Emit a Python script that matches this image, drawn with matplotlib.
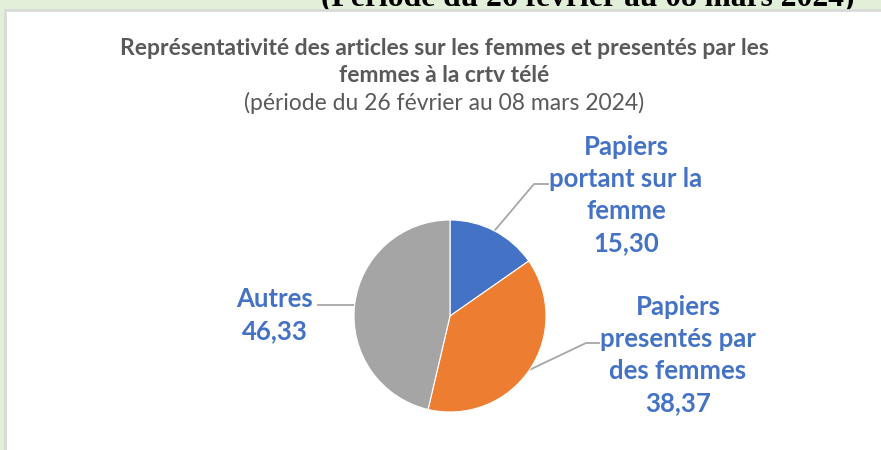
import numpy as np
import matplotlib
matplotlib.use("Agg")
import matplotlib.pyplot as plt
from matplotlib.patches import Rectangle

# data
labels = ["Papiers\nportant sur la\nfemme", "Papiers\npresentés par\ndes femmes", "Autres"]
values = [15.30, 38.37, 46.33]
value_text = ["15,30", "38,37", "46,33"]
colors = ["#4472c4", "#ed7d31", "#a5a5a5"]

title = "Représentativité des articles sur les femmes et presentés par les\nfemmes à la crtv télé"
subtitle = "(période du 26 février au 08 mars 2024)"
top_text = "(Période du 26 février au 08 mars 2024)"

W, H = 881, 450
fig = plt.figure(figsize=(W / 100, H / 100), dpi=100, facecolor="#e2efd9")

# overlay axes in pixel coordinates
ax = fig.add_axes([0, 0, 1, 1])
ax.set_xlim(0, W)
ax.set_ylim(H, 0)
ax.axis("off")

# cut-off heading from the document above the chart
ax.text(588, 5, top_text, ha="center", va="baseline", fontsize=22.7,
        fontweight="bold", family="Liberation Serif", color="black", zorder=1)

# white chart panel
ax.add_patch(Rectangle((5, 10), W, H, facecolor="white", edgecolor="#d9d9d9",
                       linewidth=2, zorder=2))

ax.text(444, 62, title, ha="center", va="center", fontsize=16.5, fontweight="bold",
        family="Lato", color="#595959", linespacing=1.4, zorder=3)
ax.text(444, 103, subtitle, ha="center", va="center", fontsize=16.5,
        family="Lato", color="#595959", zorder=3)

# pie
cx, cy, r = 450, 316, 96
pax = fig.add_axes([(cx - r) / W, 1 - (cy + r) / H, 2 * r / W, 2 * r / H])
pax.pie(values, colors=colors, startangle=90, counterclock=False,
        wedgeprops=dict(linewidth=0.8, edgecolor="white"))
pax.set_xlim(-1, 1)
pax.set_ylim(-1, 1)
pax.set_aspect("equal")
pax.axis("off")

# leader lines and labels
fracs = np.array(values) / sum(values)
ends = np.cumsum(fracs) * 360
mids = ends - fracs * 360 / 2
label_pos = [(626, 195), (678, 355), (275, 315)]
elbows = [[(534, 184), (548, 184)], [(586, 343), (599, 343)], [(318, None)]]
lab_col = "#4472c4"
for i, m in enumerate(mids):
    a = np.radians(m)
    px, py = cx + r * np.sin(a), cy - r * np.cos(a)
    if i == 2:
        pts = [(px, py), (318, py)]
    else:
        pts = [(px, py)] + elbows[i]
    xs, ys = zip(*pts)
    ax.plot(xs, ys, color="#a6a6a6", lw=1.3, zorder=3)
    ax.text(label_pos[i][0], label_pos[i][1], labels[i] + "\n" + value_text[i],
            ha="center", va="center", fontsize=18.5, fontweight="bold",
            family="Lato", color=lab_col, linespacing=1.4, zorder=3)

fig.savefig("out.png", dpi=100, facecolor=fig.get_facecolor())
